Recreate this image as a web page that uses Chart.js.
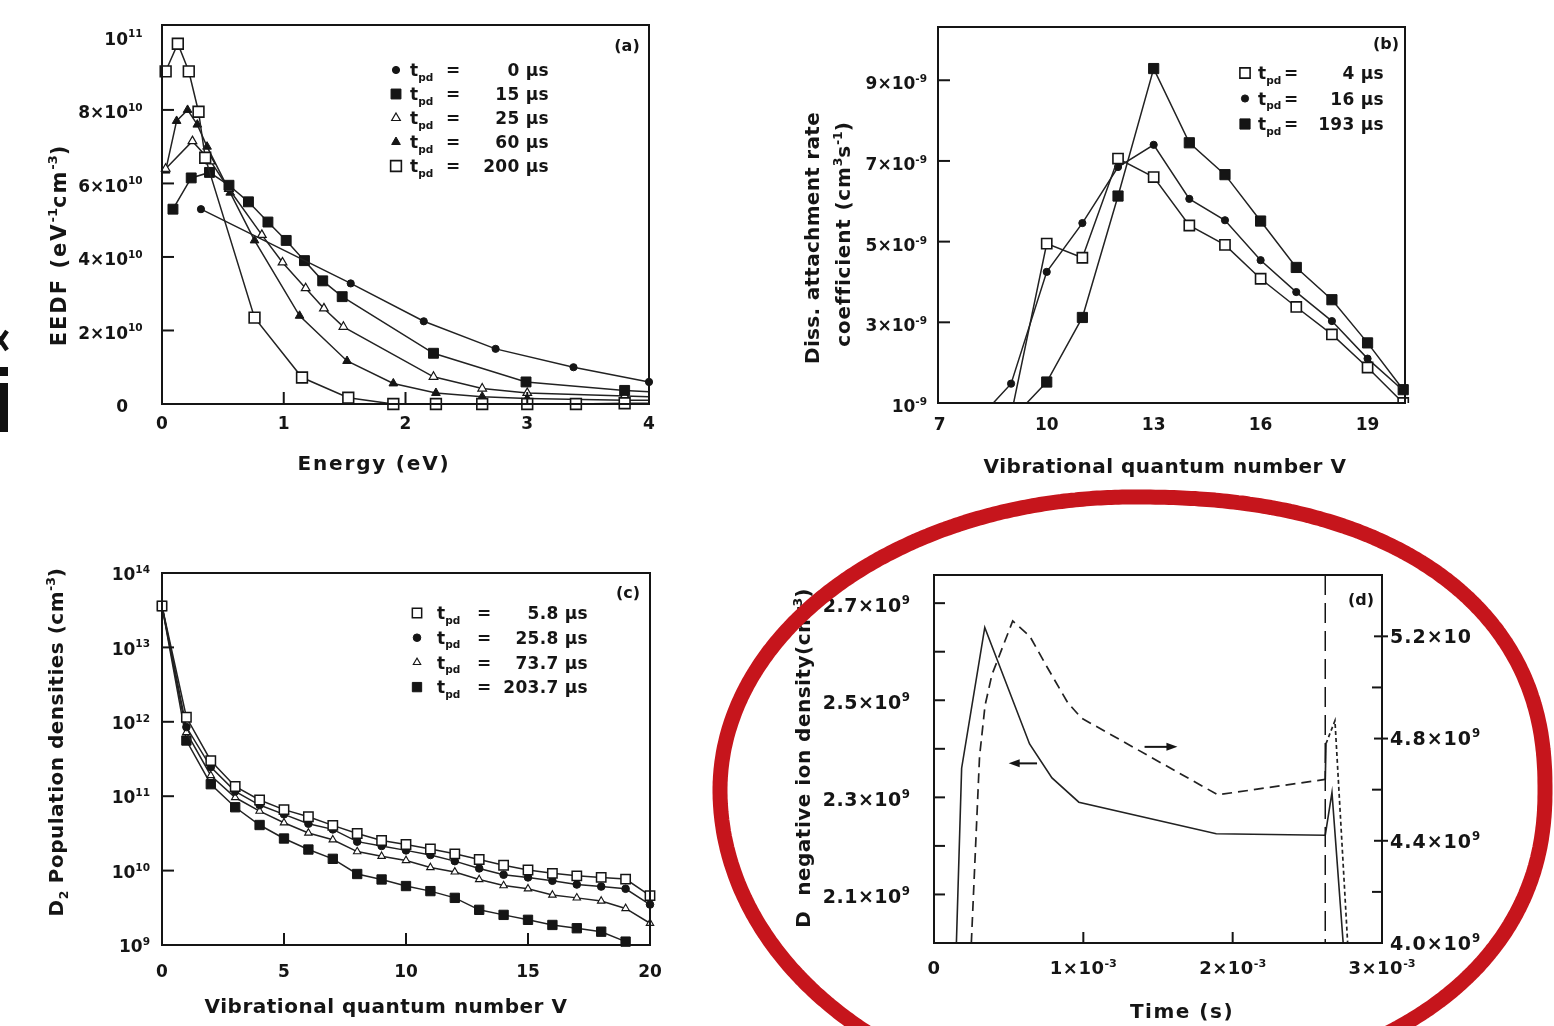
<!DOCTYPE html>
<html><head><meta charset="utf-8">
<script src="https://cdn.jsdelivr.net/npm/chart.js@4.4.1/dist/chart.umd.min.js"></script>
<style>
html,body{margin:0;padding:0;background:#fff;}
#wrap{position:relative;width:1554px;height:1026px;overflow:hidden;background:#fff;}
canvas{position:absolute;left:0;top:0;width:1554px;height:1026px;}
svg{position:absolute;left:0;top:0;}
</style></head><body>
<div id="wrap">
<canvas id="ca" width="1554" height="1026"></canvas>
<canvas id="cb" width="1554" height="1026"></canvas>
<canvas id="cc" width="1554" height="1026"></canvas>
<canvas id="cd" width="1554" height="1026"></canvas>
<svg width="1554" height="1026" viewBox="0 0 1554 1026">
  <path id="ring" fill="none" stroke="#c6151c" stroke-width="15" stroke-linejoin="round"/>
  <path d="M-6 331 L7 350 M7 331 L-6 350" stroke="#111" stroke-width="4.5"/>
  <rect x="0" y="367" width="8" height="9" fill="#111"/>
  <rect x="0" y="383" width="8" height="49" fill="#111"/>
</svg>
</div>
<script>
// ================= DATA =================
// ---- (a) EEDF vs energy
const aTimes = ['0', '15', '25', '60', '200'];
const aE_0   = [0.32, 1.55, 2.15, 2.74, 3.38, 4.00];
const aF_0   = [5.3e10, 3.28e10, 2.25e10, 1.5e10, 1.0e10, 0.6e10];
const aE_15  = [0.09, 0.24, 0.39, 0.55, 0.71, 0.87, 1.02, 1.17, 1.32, 1.48, 2.23, 2.99, 3.80, 4.00];
const aF_15  = [5.3e10, 6.15e10, 6.3e10, 5.95e10, 5.5e10, 4.95e10, 4.45e10, 3.9e10, 3.35e10, 2.92e10, 1.38e10, 0.6e10, 0.37e10, 0.33e10];
const aE_25  = [0.03, 0.25, 0.40, 0.55, 0.82, 0.99, 1.18, 1.33, 1.49, 2.23, 2.63, 3.00, 3.80, 4.00];
const aF_25  = [6.4e10, 7.15e10, 6.6e10, 5.85e10, 4.6e10, 3.85e10, 3.15e10, 2.6e10, 2.1e10, 0.74e10, 0.42e10, 0.3e10, 0.22e10, 0.2e10];
const aE_60  = [0.03, 0.12, 0.21, 0.29, 0.37, 0.56, 0.76, 1.13, 1.52, 1.90, 2.25, 2.63, 3.00, 3.80, 4.00];
const aF_60  = [6.35e10, 7.7e10, 8.0e10, 7.6e10, 7.0e10, 5.75e10, 4.45e10, 2.4e10, 1.17e10, 0.56e10, 0.3e10, 0.2e10, 0.15e10, 0.1e10, 0.1e10];
const aE_200 = [0.03, 0.13, 0.22, 0.30, 0.355, 0.76, 1.15, 1.53, 1.90, 2.25, 2.63, 3.00, 3.40, 3.80, 4.00];
const aF_200 = [9.05e10, 9.8e10, 9.05e10, 7.95e10, 6.7e10, 2.35e10, 0.72e10, 0.17e10, 0, 0, 0, 0, 0, 0.02e10, 0.02e10];
const aXTicks = [0, 1, 2, 3, 4];
const aXTickText = ['0', '1', '2', '3', '4'];
const aYTicks = [0, 2e10, 4e10, 6e10, 8e10, 1e11];
const aYTickText = ['0', '2×10^{10}', '4×10^{10}', '6×10^{10}', '8×10^{10}', '10^{11}'];

// ---- (b) dissociative attachment rate coefficient
const bTimes = ['4', '16', '193'];
const bV_4   = [9, 10, 11, 12, 13, 14, 15, 16, 17, 18, 19, 20];
const bK_4   = [0.70e-9, 4.95e-9, 4.60e-9, 7.06e-9, 6.60e-9, 5.40e-9, 4.92e-9, 4.08e-9, 3.38e-9, 2.70e-9, 1.88e-9, 1.00e-9];
const bV_16  = [8, 9, 10, 11, 12, 13, 14, 15, 16, 17, 18, 19, 20];
const bK_16  = [0.52e-9, 1.48e-9, 4.25e-9, 5.46e-9, 6.85e-9, 7.40e-9, 6.06e-9, 5.53e-9, 4.54e-9, 3.75e-9, 3.03e-9, 2.10e-9, 1.31e-9];
const bV_193 = [9, 10, 11, 12, 13, 14, 15, 16, 17, 18, 19, 20];
const bK_193 = [0.59e-9, 1.52e-9, 3.12e-9, 6.13e-9, 9.29e-9, 7.45e-9, 6.66e-9, 5.51e-9, 4.36e-9, 3.56e-9, 2.49e-9, 1.33e-9];
const bXTicks = [7, 10, 13, 16, 19];
const bXTickText = ['7', '10', '13', '16', '19'];
const bYTicks = [1e-9, 3e-9, 5e-9, 7e-9, 9e-9];
const bYTickText = ['10^{-9}', '3×10^{-9}', '5×10^{-9}', '7×10^{-9}', '9×10^{-9}'];

// ---- (c) D2 vibrational population densities
const cTimes = ['5.8', '25.8', '73.7', '203.7'];
const cV = [0, 1, 2, 3, 4, 5, 6, 7, 8, 9, 10, 11, 12, 13, 14, 15, 16, 17, 18, 19, 20];
const cN_5_8   = [3.6e13, 1.15e12, 3.0e11, 1.35e11, 8.9e10, 6.6e10, 5.3e10, 4.05e10, 3.15e10, 2.54e10, 2.24e10, 1.95e10, 1.68e10, 1.41e10, 1.18e10, 1.02e10, 9.2e9, 8.5e9, 8.1e9, 7.7e9, 4.6e9];
const cN_25_8  = [3.6e13, 8.5e11, 2.46e11, 1.16e11, 7.6e10, 5.7e10, 4.27e10, 3.58e10, 2.45e10, 2.14e10, 1.87e10, 1.62e10, 1.34e10, 1.07e10, 8.8e9, 8.1e9, 7.3e9, 6.5e9, 6.1e9, 5.7e9, 3.5e9];
const cN_73_7  = [3.6e13, 7.2e11, 1.9e11, 9.6e10, 6.3e10, 4.4e10, 3.2e10, 2.6e10, 1.8e10, 1.56e10, 1.37e10, 1.1e10, 9.6e9, 7.6e9, 6.3e9, 5.7e9, 4.7e9, 4.3e9, 3.9e9, 3.1e9, 1.96e9];
const cN_203_7 = [3.6e13, 5.6e11, 1.45e11, 7.1e10, 4.1e10, 2.7e10, 1.92e10, 1.44e10, 9.0e9, 7.6e9, 6.2e9, 5.3e9, 4.3e9, 2.97e9, 2.54e9, 2.18e9, 1.86e9, 1.68e9, 1.51e9, 1.11e9];
const cXTicks = [0, 5, 10, 15, 20];
const cXTickText = ['0', '5', '10', '15', '20'];
const cYTicks = [1e9, 1e10, 1e11, 1e12, 1e13, 1e14];
const cYTickText = ['10^{9}', '10^{10}', '10^{11}', '10^{12}', '10^{13}', '10^{14}'];

// ---- (d) D- negative ion density vs time
const dT_ion = [0.15e-3, 0.185e-3, 0.34e-3, 0.64e-3, 0.79e-3, 0.97e-3, 1.89e-3, 2.62e-3, 2.665e-3, 2.74e-3];
const dN_ion = [2.00e9, 2.36e9, 2.65e9, 2.41e9, 2.34e9, 2.29e9, 2.225e9, 2.222e9, 2.31e9, 2.00e9];
const dT_rhs = [0.25e-3, 0.305e-3, 0.342e-3, 0.388e-3, 0.527e-3, 0.642e-3, 0.757e-3, 0.896e-3, 0.988e-3, 1.90e-3, 2.62e-3, 2.625e-3, 2.685e-3, 2.77e-3];
const dN_rhs = [4.00e9, 4.73e9, 4.93e9, 5.05e9, 5.26e9, 5.20e9, 5.08e9, 4.94e9, 4.88e9, 4.58e9, 4.64e9, 4.78e9, 4.87e9, 4.00e9];
const dPulseEnd = 2.62e-3;
const dArrowLeft  = [0.69e-3, 0.50e-3, 2.37e9];
const dArrowRight = [1.41e-3, 1.63e-3, 2.404e9];
const dXTicks = [0, 1e-3, 2e-3, 3e-3];
const dXTickText = ['0', '1×10^{-3}', '2×10^{-3}', '3×10^{-3}'];
const dYTicks = [2.1e9, 2.3e9, 2.5e9, 2.7e9];
const dYTickText = ['2.1×10^{9}', '2.3×10^{9}', '2.5×10^{9}', '2.7×10^{9}'];
const dYMinor = [2.2e9, 2.4e9, 2.6e9];
const dY2Ticks = [4.0e9, 4.4e9, 4.8e9, 5.2e9];
const dY2TickText = ['4.0×10^{9}', '4.4×10^{9}', '4.8×10^{9}', '5.2×10'];
const dY2Minor = [4.2e9, 4.6e9, 5.0e9];

// ================= LAYOUT / STYLE =================
const W = 1554, H = 1026;
const INK = '#151515', LINE = '#222';
const FONT = '"DejaVu Sans", "Liberation Sans", Arial, sans-serif';
const AREA_A = {l:162, t:25, r:649, b:404};
const AREA_B = {l:938, t:27, r:1405, b:403};
const AREA_C = {l:162, t:573, r:650, b:945};
const AREA_D = {l:934, t:575, r:1382, b:943};

const STYLE_A = [
  {shape:'circle', r:3.6, open:false, bw:1},
  {shape:'rect', r:7, open:false, bw:1, tail:true},
  {shape:'triangle', r:5, open:true, bw:1.2, tail:true},
  {shape:'triangle', r:5, open:false, bw:1, tail:true},
  {shape:'rect', r:7.6, open:true, bw:1.6, tail:true}
];
const STYLE_B = [
  {shape:'rect', r:7.2, open:true, bw:1.6},
  {shape:'circle', r:3.6, open:false, bw:1},
  {shape:'rect', r:7.2, open:false, bw:1}
];
const STYLE_C = [
  {shape:'rect', r:6.6, open:true, bw:1.5},
  {shape:'circle', r:3.8, open:false, bw:1},
  {shape:'triangle', r:4.3, open:true, bw:1.1},
  {shape:'rect', r:6.6, open:false, bw:1}
];

// ================= HELPERS =================
function segs(s) {
  const out = []; let buf = ''; let i = 0;
  while (i < s.length) {
    const c = s[i];
    if ((c === '^' || c === '_') && s[i + 1] === '{') {
      if (buf) { out.push({t: buf, k: 0}); buf = ''; }
      const j = s.indexOf('}', i);
      out.push({t: s.slice(i + 2, j), k: c === '^' ? 1 : -1});
      i = j + 1;
    } else { buf += c; i++; }
  }
  if (buf) out.push({t: buf, k: 0});
  return out;
}
function setFont(ctx, size, ls) {
  ctx.font = 'bold ' + size + 'px ' + FONT;
  if ('letterSpacing' in ctx) ctx.letterSpacing = (ls || 0) + 'px';
}
function drawRich(ctx, s, x, y, size, align, ls) {
  const parts = segs(s); const small = size * 0.62;
  let w = 0, wMain = 0;
  parts.forEach(p => { setFont(ctx, p.k ? small : size, p.k ? 0 : ls); p.w = ctx.measureText(p.t).width; w += p.w; if (!p.k) wMain = w; });
  let cx = align === 'center' ? x - w / 2 : align === 'right' ? x - w : align === 'rightmain' ? x - wMain : x;
  ctx.textAlign = 'left'; ctx.textBaseline = 'alphabetic';
  const base = y + size * 0.36;
  parts.forEach(p => {
    setFont(ctx, p.k ? small : size, p.k ? 0 : ls);
    const dy = p.k === 1 ? -size * 0.42 : p.k === -1 ? size * 0.26 : 0;
    ctx.fillText(p.t, cx, base + dy); cx += p.w;
  });
  if ('letterSpacing' in ctx) ctx.letterSpacing = '0px';
}
function drawMarker(ctx, st, x, y) {
  ctx.save(); ctx.lineWidth = st.bw; ctx.strokeStyle = INK; ctx.fillStyle = st.open ? '#fff' : INK;
  ctx.beginPath();
  if (st.shape === 'circle') ctx.arc(x, y, st.r, 0, Math.PI * 2);
  else if (st.shape === 'rect') { const s = st.r * Math.SQRT1_2; ctx.rect(x - s, y - s, 2 * s, 2 * s); }
  else { for (let k = 0; k < 3; k++) { const a = k * 2 * Math.PI / 3; const px = x + Math.sin(a) * st.r, py = y - Math.cos(a) * st.r; if (k) ctx.lineTo(px, py); else ctx.moveTo(px, py); } ctx.closePath(); }
  ctx.fill(); ctx.stroke(); ctx.restore();
}
function series(xs, ys, st, extra) {
  return Object.assign({
    data: xs.map((x, i) => ({x: x, y: ys[i]})),
    borderColor: LINE, borderWidth: 1.5, fill: false, tension: 0,
    pointStyle: st.shape,
    pointRadius: c => (st.tail && c.dataIndex === c.dataset.data.length - 1) ? 0 : st.r,
    pointBackgroundColor: st.open ? '#fff' : INK, pointBorderColor: INK, pointBorderWidth: st.bw
  }, extra || {});
}

function drawDeco(chart, cfg) {
  const ctx = chart.ctx, ca = chart.chartArea;
  ctx.save();
  ctx.strokeStyle = INK; ctx.fillStyle = INK;
  if (cfg.extra) cfg.extra(chart, ctx, ca);
  ctx.lineWidth = 2; ctx.setLineDash([]);
  ctx.strokeRect(ca.left, ca.top, ca.right - ca.left, ca.bottom - ca.top);
  (cfg.ticks || []).forEach(t => {
    const sc = chart.scales[t.axis];
    t.values.forEach(v => {
      const p = sc.getPixelForValue(v);
      ctx.beginPath();
      if (t.axis === 'x') { ctx.moveTo(p, ca.bottom + (t.out || 0)); ctx.lineTo(p, ca.bottom - t.len); }
      else if (t.axis === 'y') { ctx.moveTo(ca.left - (t.out || 0), p); ctx.lineTo(ca.left + t.len, p); }
      else { ctx.moveTo(ca.right + (t.out || 0), p); ctx.lineTo(ca.right - t.len, p); }
      ctx.stroke();
    });
  });
  (cfg.labels || []).forEach(L => {
    const sc = chart.scales[L.axis];
    L.values.forEach((v, i) => {
      const p = sc.getPixelForValue(v);
      if (L.axis === 'x') drawRich(ctx, L.text[i], p + (L.dx || 0), ca.bottom + L.gap, L.size, 'center', L.ls);
      else if (L.axis === 'y') drawRich(ctx, L.text[i], ca.left - L.gap, p + (L.dy || 0), L.size, L.align || 'right', L.ls);
      else drawRich(ctx, L.text[i], ca.right + L.gap, p + (L.dy || 0), L.size, 'left', L.ls);
    });
  });
  (cfg.titles || []).forEach(T => {
    ctx.save(); ctx.translate(T.x, T.y); if (T.rot) ctx.rotate(-Math.PI / 2);
    drawRich(ctx, T.text, 0, 0, T.size, 'center', T.ls); ctx.restore();
  });
  if (cfg.tag) drawRich(ctx, cfg.tag.text, cfg.tag.x, cfg.tag.y, cfg.tag.size, 'center', 0);
  if (cfg.legend) {
    const G = cfg.legend;
    G.labels.forEach((lab, i) => {
      const y = G.y0 + i * G.dy;
      drawMarker(ctx, G.styles[i], G.mx, y);
      ctx.fillStyle = INK;
      drawRich(ctx, 't_{pd}', G.tx, y, G.size, 'left', 0);
      drawRich(ctx, '=', G.eqX, y, G.size, 'left', 0);
      drawRich(ctx, lab + ' µs', G.rx, y, G.size, 'right', 0.3);
    });
  }
  ctx.restore();
}

function makeChart(id, area, scales, datasets, cfg) {
  return new Chart(document.getElementById(id), {
    type: 'line',
    data: {datasets: datasets},
    options: {
      responsive: false, animation: false, events: [],
      layout: {padding: {left: area.l, top: area.t, right: W - area.r, bottom: H - area.b}},
      scales: scales,
      plugins: {legend: {display: false}, tooltip: {enabled: false}},
      elements: {line: {tension: 0}}
    },
    plugins: [{id: 'deco_' + id, afterDatasetsDraw(chart) { drawDeco(chart, cfg); }}]
  });
}

// ================= PANEL (a) =================
makeChart('ca', AREA_A,
  {x: {type: 'linear', min: 0, max: 4, display: false}, y: {type: 'linear', min: 0, max: 1.031e11, display: false}},
  [
    series(aE_200, aF_200, STYLE_A[4], {clip: false}),
    series(aE_0, aF_0, STYLE_A[0], {clip: false}),
    series(aE_15, aF_15, STYLE_A[1], {clip: false}),
    series(aE_25, aF_25, STYLE_A[2], {clip: false}),
    series(aE_60, aF_60, STYLE_A[3], {clip: false})
  ],
  {
    ticks: [{axis: 'y', values: aYTicks.slice(1, 5), len: 12}, {axis: 'x', values: aXTicks.slice(1, 4), len: 12}],
    labels: [
      {axis: 'y', values: aYTicks, text: aYTickText, gap: 34, size: 17, align: 'rightmain', dy: 2},
      {axis: 'x', values: aXTicks, text: aXTickText, gap: 19, size: 17}
    ],
    titles: [
      {text: 'EEDF (eV^{-1}cm^{-3})', x: 58, y: 245, size: 21, rot: true, ls: 2},
      {text: 'Energy (eV)', x: 374, y: 463, size: 20, ls: 1.8}
    ],
    tag: {text: '(a)', x: 627, y: 45, size: 16},
    legend: {styles: STYLE_A, labels: aTimes, mx: 396, tx: 410, eqX: 446, rx: 549, y0: 70, dy: 24, size: 17}
  });

// ================= PANEL (b) =================
makeChart('cb', AREA_B,
  {x: {type: 'linear', min: 6.95, max: 20.05, display: false}, y: {type: 'linear', min: 1e-9, max: 10.32e-9, display: false}},
  [
    series(bV_4, bK_4, STYLE_B[0], {clip: {left: 0, top: 20, right: 20, bottom: 0}}),
    series(bV_16, bK_16, STYLE_B[1], {clip: {left: 0, top: 20, right: 20, bottom: 0}}),
    series(bV_193, bK_193, STYLE_B[2], {clip: {left: 0, top: 20, right: 20, bottom: 0}})
  ],
  {
    ticks: [{axis: 'y', values: bYTicks.slice(1), len: 12}],
    labels: [
      {axis: 'y', values: bYTicks, text: bYTickText, gap: 11, size: 17, dy: 3},
      {axis: 'x', values: bXTicks, text: bXTickText, gap: 21, size: 17}
    ],
    titles: [
      {text: 'Diss. attachment rate', x: 812, y: 238, size: 20, rot: true, ls: 0.3},
      {text: 'coefficient (cm^{3}s^{-1})', x: 843, y: 234, size: 20, rot: true, ls: 0.8},
      {text: 'Vibrational quantum number V', x: 1165, y: 466, size: 20, ls: 0.5}
    ],
    tag: {text: '(b)', x: 1386, y: 43, size: 16},
    legend: {styles: STYLE_B, labels: bTimes, mx: 1245, tx: 1258, eqX: 1284, rx: 1384, y0: 73, dy: 25.5, size: 17}
  });

// ================= PANEL (c) =================
makeChart('cc', AREA_C,
  {x: {type: 'linear', min: 0, max: 20, display: false}, y: {type: 'logarithmic', min: 1e9, max: 1e14, display: false}},
  [
    series(cV, cN_5_8, STYLE_C[0], {clip: false}),
    series(cV, cN_25_8, STYLE_C[1], {clip: false}),
    series(cV, cN_73_7, STYLE_C[2], {clip: false}),
    series(cV.slice(0, cN_203_7.length), cN_203_7, STYLE_C[3], {clip: false})
  ],
  {
    ticks: [{axis: 'y', values: cYTicks.slice(1, 5), len: 12}, {axis: 'x', values: cXTicks.slice(1, 4), len: 12}],
    labels: [
      {axis: 'y', values: cYTicks, text: cYTickText, gap: 12, size: 17, dy: 1},
      {axis: 'x', values: cXTicks, text: cXTickText, gap: 26, size: 17}
    ],
    titles: [
      {text: 'D_{2} Population densities (cm^{-3})', x: 56, y: 742, size: 20, rot: true, ls: 0.5},
      {text: 'Vibrational quantum number V', x: 386, y: 1006, size: 20, ls: 0.5}
    ],
    tag: {text: '(c)', x: 628, y: 592, size: 16},
    legend: {styles: STYLE_C, labels: cTimes, mx: 417, tx: 437, eqX: 477, rx: 588, y0: 613, dy: 24.7, size: 17}
  });

// ================= PANEL (d) =================
function arrow(ctx, chart, a) {
  const x1 = chart.scales.x.getPixelForValue(a[0]), x2 = chart.scales.x.getPixelForValue(a[1]);
  const y = chart.scales.y.getPixelForValue(a[2]);
  const dir = Math.sign(x2 - x1);
  ctx.lineWidth = 2; ctx.setLineDash([]);
  ctx.beginPath(); ctx.moveTo(x1, y); ctx.lineTo(x2 - dir * 6, y); ctx.stroke();
  ctx.beginPath(); ctx.moveTo(x2, y); ctx.lineTo(x2 - dir * 11, y - 4); ctx.lineTo(x2 - dir * 11, y + 4); ctx.closePath(); ctx.fill();
}
makeChart('cd', AREA_D,
  {
    x: {type: 'linear', min: 0, max: 3e-3, display: false},
    y: {type: 'linear', min: 2.0e9, max: 2.758e9, display: false},
    y2: {type: 'linear', position: 'right', min: 4.0e9, max: 5.44e9, display: false}
  },
  [
    {data: dT_ion.map((x, i) => ({x: x, y: dN_ion[i]})), yAxisID: 'y', borderColor: LINE, borderWidth: 1.6, pointRadius: 0, fill: false},
    {data: dT_rhs.map((x, i) => ({x: x, y: dN_rhs[i]})), yAxisID: 'y2', borderColor: LINE, borderWidth: 1.7, pointRadius: 0, fill: false,
      borderDash: [10, 6],
      segment: {borderDash: c => { const x0 = c.p0.parsed.x; return x0 < dPulseEnd - 1e-9 ? [10, 6] : (x0 < dPulseEnd + 3e-6 ? [] : [4, 3]); }}}
  ],
  {
    extra: (chart, ctx, ca) => {
      const xp = chart.scales.x.getPixelForValue(dPulseEnd);
      ctx.save(); ctx.lineWidth = 1.5; ctx.setLineDash([20, 8]);
      ctx.beginPath(); ctx.moveTo(xp, ca.top); ctx.lineTo(xp, ca.bottom); ctx.stroke(); ctx.restore();
      arrow(ctx, chart, dArrowLeft); arrow(ctx, chart, dArrowRight);
    },
    ticks: [
      {axis: 'y', values: dYTicks.concat(dYMinor), len: 11},
      {axis: 'y2', values: dY2Minor, len: 10},
      {axis: 'y2', values: dY2Ticks.slice(1), len: 8, out: 6},
      {axis: 'x', values: dXTicks.slice(1, 3), len: 11}
    ],
    labels: [
      {axis: 'y', values: dYTicks, text: dYTickText, gap: 24, size: 19, dy: 2, ls: 0.5},
      {axis: 'y2', values: dY2Ticks, text: dY2TickText, gap: 8, size: 19, dy: 0, ls: 1},
      {axis: 'x', values: dXTicks, text: dXTickText, gap: 25, size: 18, ls: 0.5}
    ],
    titles: [
      {text: 'D  negative ion density(cm^{-3})', x: 803, y: 758, size: 20, rot: true, ls: 0.5},
      {text: 'Time (s)', x: 1182, y: 1011, size: 20, ls: 1.5}
    ],
    tag: {text: '(d)', x: 1361, y: 599, size: 16}
  });

// ================= RED RING (hand-drawn annotation, per-quadrant superellipse) =================
(function () {
  const cx = 1133, cy = 790;
  const Q = { // [half-width, half-height, exponent] per quadrant
    tr: [412, 293, 2.3], tl: [413, 293, 2.0], bl: [413, 317, 2.0], br: [412, 295, 2.2]
  };
  let d = '';
  for (let i = 0; i <= 720; i++) {
    const th = i * Math.PI / 360;
    const c = Math.cos(th), s = Math.sin(th);
    const q = s < 0 ? (c >= 0 ? Q.tr : Q.tl) : (c >= 0 ? Q.br : Q.bl);
    const e = 2 / q[2];
    const x = cx + q[0] * Math.sign(c) * Math.pow(Math.abs(c), e);
    const y = cy + q[1] * Math.sign(s) * Math.pow(Math.abs(s), e);
    d += (i ? ' L' : 'M') + x.toFixed(1) + ' ' + y.toFixed(1);
  }
  document.getElementById('ring').setAttribute('d', d);
})();
</script>
</body></html>
